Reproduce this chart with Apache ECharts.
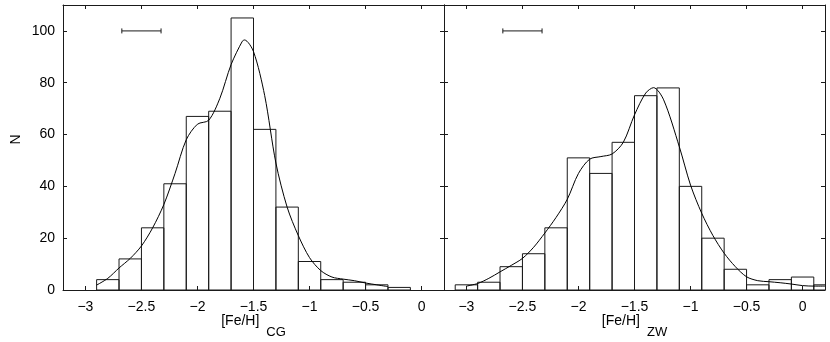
<!DOCTYPE html>
<html>
<head>
<meta charset="utf-8">
<script src="https://cdn.jsdelivr.net/npm/echarts@6/dist/echarts.min.js"></script>
<style>
  html, body { margin: 0; padding: 0; background: #fff; }
  #chart { width: 830px; height: 342px; }
</style>
</head>
<body>
<div id="chart"></div>
<script>
// histogram bins (centres) and counts
const binsCG = [-2.8, -2.6, -2.4, -2.2, -2.0, -1.8, -1.6, -1.4, -1.2, -1.0, -0.8, -0.6, -0.4, -0.2]
const countsCG = [4, 12, 24, 41, 67, 69, 105, 62, 32, 11, 4, 3, 2, 1]
const binsZW = [-3.0, -2.8, -2.6, -2.4, -2.2, -2.0, -1.8, -1.6, -1.4, -1.2, -1.0, -0.8, -0.6, -0.4, -0.2, 0.0, 0.2]
const countsZW = [2, 3, 9, 14, 24, 51, 45, 57, 75, 78, 40, 20, 8, 2, 4, 5, 2]
const binWidth = 0.2

// smoothed distribution curves
const curveCGx = [-2.9, -2.8, -2.7, -2.6, -2.5, -2.4, -2.3, -2.2, -2.1, -2.0, -1.9, -1.8, -1.7, -1.6, -1.58, -1.5, -1.4, -1.3, -1.2, -1.1, -1.0, -0.9, -0.8, -0.7, -0.6, -0.5, -0.4, -0.3]
const curveCGy = [1.9, 4.5, 8.5, 12.2, 17, 24, 33, 45, 58, 64, 65.5, 74, 87, 96, 96.5, 92, 75, 49, 32, 21, 12.5, 7.5, 5, 4.2, 3.6, 2.7, 2, 1.3]
const curveZWx = [-3.0, -2.9, -2.8, -2.7, -2.6, -2.5, -2.4, -2.3, -2.2, -2.1, -2.0, -1.9, -1.8, -1.7, -1.6, -1.5, -1.4, -1.33, -1.24, -1.1, -1.0, -0.9, -0.8, -0.7, -0.6, -0.5, -0.4, -0.3, -0.2, -0.1, 0.0, 0.1, 0.2]
const curveZWy = [1.5, 2.5, 4.5, 7, 9.5, 12.2, 16.5, 22, 28, 35, 45, 50.5, 51.5, 52.5, 57, 67.6, 76, 78.1, 73.4, 55.3, 40.5, 29.6, 21, 14.2, 9, 5.1, 3.6, 3.2, 2.8, 2.3, 1.7, 1.5, 1.5]

// typical error bar (centre, N, half width)
const errX = -2.5
const errY = 100
const errHalf = 0.175

const xTicks = [-3, -2.5, -2, -1.5, -1, -0.5, 0]
const yTicks = [0, 20, 40, 60, 80, 100]

const font = 'Liberation Sans, Arial, Helvetica, sans-serif'
const ink = '#1a1a1a'

const myChart = echarts.init(document.getElementById('chart'))

function fmtX (v) {
  return v < 0 ? '\u2212' + Math.abs(v) : String(v)
}

function bottomAxis (grid, sub) {
  return {
    type: 'value', gridIndex: grid, position: 'bottom',
    min: -3.2, max: 0.2,
    axisLine: { onZero: false, lineStyle: { color: ink, width: 1 } },
    axisTick: { inside: true, length: 4, customValues: xTicks, lineStyle: { color: ink } },
    axisLabel: { customValues: xTicks, formatter: fmtX, margin: 10, color: '#000', fontSize: 14, fontFamily: font },
    splitLine: { show: false },
    name: '{m|[Fe/H]}{s|' + sub + '}',
    nameLocation: 'middle',
    nameGap: 29,
    nameMoveOverlap: false,
    nameTextStyle: {
      rich: {
        m: { fontSize: 14, fontFamily: font, color: '#000', lineHeight: 16, padding: [0, 0, 11, 0] },
        s: { fontSize: 13, fontFamily: font, color: '#000', lineHeight: 16, padding: [11, 0, 0, 7] }
      }
    }
  }
}

function topAxis (grid) {
  return {
    type: 'value', gridIndex: grid, position: 'top',
    min: -3.2, max: 0.2,
    axisLine: { onZero: false, lineStyle: { color: ink, width: 1 } },
    axisTick: { inside: true, length: 4, customValues: xTicks, lineStyle: { color: ink } },
    axisLabel: { show: false },
    splitLine: { show: false }
  }
}

function sideAxis (grid, pos, labels) {
  const ax = {
    type: 'value', gridIndex: grid, position: pos,
    min: 0, max: 110,
    axisLine: { show: true, onZero: false, lineStyle: { color: ink, width: 1 } },
    axisTick: { show: true, inside: true, length: 4, customValues: yTicks, lineStyle: { color: ink } },
    axisLabel: { show: labels, customValues: yTicks, margin: 8, color: '#000', fontSize: 14, fontFamily: font },
    splitLine: { show: false }
  }
  if (labels) {
    ax.name = 'N'
    ax.nameLocation = 'middle'
    ax.nameGap = 40
    ax.nameMoveOverlap = false
    ax.nameTextStyle = { fontSize: 14, fontFamily: font, color: '#000', padding: [0, 0, 0, 16] }
  }
  return ax
}

function histSeries (bins, counts, xi, yi) {
  return {
    type: 'custom',
    xAxisIndex: xi,
    yAxisIndex: yi,
    clip: true,
    data: bins.map((c, i) => [c, counts[i]]),
    renderItem (params, api) {
      const c = api.value(0)
      const p0 = api.coord([c - binWidth / 2, api.value(1)])
      const p1 = api.coord([c + binWidth / 2, 0])
      return {
        type: 'rect',
        shape: { x: p0[0], y: p0[1], width: p1[0] - p0[0], height: p1[1] - p0[1] },
        style: { fill: 'none', stroke: ink, lineWidth: 1 }
      }
    },
    z: 2
  }
}

function curveSeries (xs, ys, xi, yi) {
  return {
    type: 'line',
    xAxisIndex: xi,
    yAxisIndex: yi,
    data: xs.map((x, i) => [x, ys[i]]),
    smooth: 0.3,
    showSymbol: false,
    lineStyle: { color: '#000', width: 1 },
    z: 3
  }
}

function errSeries (xi, yi) {
  return {
    type: 'custom',
    xAxisIndex: xi,
    yAxisIndex: yi,
    data: [[errX, errY, errHalf]],
    renderItem (params, api) {
      const a = api.coord([api.value(0) - api.value(2), api.value(1)])
      const b = api.coord([api.value(0) + api.value(2), api.value(1)])
      const st = { stroke: ink, lineWidth: 1 }
      return {
        type: 'group',
        children: [
          { type: 'line', shape: { x1: a[0], y1: a[1], x2: b[0], y2: b[1] }, style: st },
          { type: 'line', shape: { x1: a[0], y1: a[1] - 2.5, x2: a[0], y2: a[1] + 2.5 }, style: st },
          { type: 'line', shape: { x1: b[0], y1: b[1] - 2.5, x2: b[0], y2: b[1] + 2.5 }, style: st }
        ]
      }
    },
    z: 3
  }
}

const option = {
  animation: false,
  backgroundColor: '#fff',
  grid: [
    { left: 63, top: 5, width: 381, height: 285, outerBoundsMode: 'none' },
    { left: 444, top: 5, width: 381, height: 285, outerBoundsMode: 'none' }
  ],
  xAxis: [bottomAxis(0, 'CG'), topAxis(0), bottomAxis(1, 'ZW'), topAxis(1)],
  yAxis: [sideAxis(0, 'left', true), sideAxis(0, 'right', false), sideAxis(1, 'left', false), sideAxis(1, 'right', false)],
  series: [
    histSeries(binsCG, countsCG, 0, 0),
    curveSeries(curveCGx, curveCGy, 0, 0),
    errSeries(0, 0),
    histSeries(binsZW, countsZW, 2, 2),
    curveSeries(curveZWx, curveZWy, 2, 2),
    errSeries(2, 2)
  ]
}
myChart.setOption(option)
</script>
</body>
</html>
